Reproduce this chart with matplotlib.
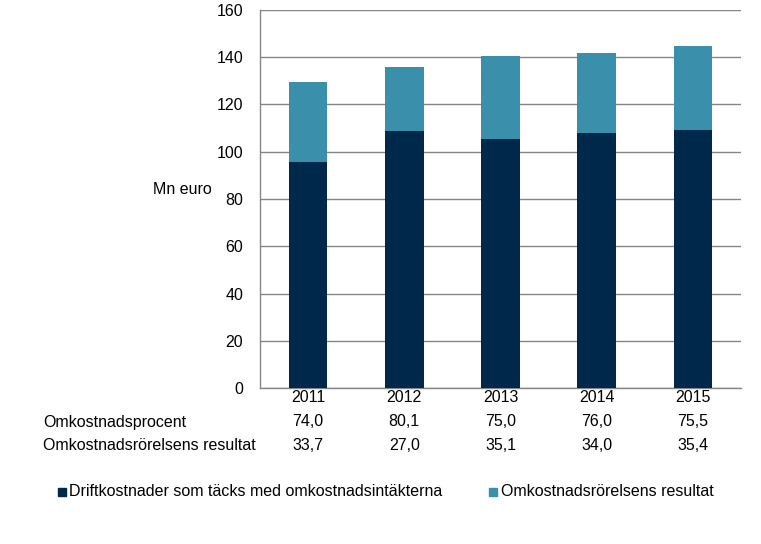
import matplotlib
matplotlib.use("Agg")
import matplotlib.pyplot as plt
import matplotlib.transforms as mtransforms
import numpy as np

plt.rcParams['font.family'] = ['Liberation Sans', 'DejaVu Sans']

years = ["2011", "2012", "2013", "2014", "2015"]
driftkostnader = [95.7, 108.8, 105.4, 107.9, 109.2]
resultat = [33.7, 27.0, 35.1, 34.0, 35.4]
procent_labels = ["74,0", "80,1", "75,0", "76,0", "75,5"]
resultat_labels = ["33,7", "27,0", "35,1", "34,0", "35,4"]
row_names = ["Omkostnadsprocent", "Omkostnadsrörelsens resultat"]
legend_names = ["Driftkostnader som täcks med omkostnadsintäkterna",
                "Omkostnadsrörelsens resultat"]

dark = "#00284B"
teal = "#3A8FAB"
grey = "#868686"
fs = 11.5

W, H = 761, 544
fig = plt.figure(figsize=(W / 100, H / 100), dpi=100)
ax = fig.add_axes([260 / W, 1 - 388 / H, 481 / W, 378 / H])

x = np.arange(len(years))
ax.bar(x, driftkostnader, width=0.4, color=dark, zorder=3)
ax.bar(x, resultat, width=0.4, bottom=driftkostnader, color=teal, zorder=3)

ax.set_xlim(-0.5, len(years) - 0.5)
ax.set_ylim(0, 160)
ax.set_yticks(range(0, 161, 20))
ax.yaxis.grid(True, color=grey, linewidth=1, zorder=0)
ax.set_xticks([])
for s in ["top", "right"]:
    ax.spines[s].set_visible(False)
for s in ["left", "bottom"]:
    ax.spines[s].set_color(grey)
    ax.spines[s].set_linewidth(1)
ax.tick_params(axis="y", length=0, pad=12, labelsize=fs)

fig.text(153 / W, 1 - 190 / H, "Mn euro", fontsize=fs, va="center", ha="left")

# table under the chart: x in data coords, y in figure coords
tr = mtransforms.blended_transform_factory(ax.transData, fig.transFigure)
for i in range(len(years)):
    ax.text(x[i], 1 - 398 / H, years[i], transform=tr, ha="center", va="center", fontsize=fs)
    ax.text(x[i], 1 - 422 / H, procent_labels[i], transform=tr, ha="center", va="center", fontsize=fs)
    ax.text(x[i], 1 - 446 / H, resultat_labels[i], transform=tr, ha="center", va="center", fontsize=fs)
fig.text(43 / W, 1 - 422 / H, row_names[0], ha="left", va="center", fontsize=fs)
fig.text(43 / W, 1 - 446 / H, row_names[1], ha="left", va="center", fontsize=fs)

# legend
ly = 1 - 492 / H
fig.patches.append(plt.Rectangle((58 / W, ly - 4 / H), 8 / W, 8 / H, color=dark,
                                 transform=fig.transFigure, figure=fig))
fig.text(69 / W, ly, legend_names[0], ha="left", va="center", fontsize=fs)
fig.patches.append(plt.Rectangle((489 / W, ly - 4 / H), 8 / W, 8 / H, color=teal,
                                 transform=fig.transFigure, figure=fig))
fig.text(501 / W, ly, legend_names[1], ha="left", va="center", fontsize=fs)

fig.savefig("out.png", dpi=100)
